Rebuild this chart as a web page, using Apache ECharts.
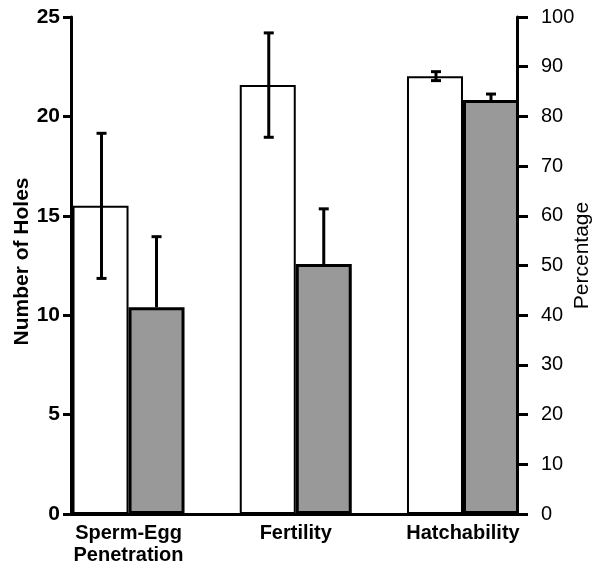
<!DOCTYPE html>
<html><head><meta charset="utf-8">
<script src="https://cdn.jsdelivr.net/npm/echarts@6/dist/echarts.min.js"></script>
<style>html,body{margin:0;padding:0;background:#fff}#c{width:596px;height:571px}</style>
</head><body><div id="c"></div>
<script>
// ---- data ----
const categories = ['Sperm-Egg\nPenetration', 'Fertility', 'Hatchability'];
const categoryPos = [0, 1, 2];
// Sperm-Egg Penetration (number of holes, left axis)
const holesWhite = [15.5];
const holesWhiteErr = [3.65];
const holesGray = [10.4];
const holesGrayErr = [3.55];
// Fertility, Hatchability (percentage, right axis)
const pctWhite = [86.3, 88.1];
const pctWhiteErr = [10.5, 0.9];
const pctGray = [50.3, 83.3];
const pctGrayErr = [11.1, 1.2];
// axis ticks
const holesTicks = {min: 0, max: 25, interval: 5};
const pctTicks = {min: 0, max: 100, interval: 10};

// ---- styles ----
const BAR_W = 56;
const FONT = "'Liberation Sans', Arial, sans-serif";

const holesPos = categoryPos.slice(0, 1);
const pctPos = categoryPos.slice(1);
const pairs = (pos, vals) => vals.map((v, i) => [pos[i], v]);
const triples = (pos, vals, errs) => vals.map((v, i) => [pos[i], v, errs[i]]);

function errRender(side, twoSided) {
  return function (params, api) {
    const x = api.value(0), v = api.value(1), e = api.value(2);
    const top = api.coord([x, v + e]);
    const bot = api.coord([x, twoSided ? v - e : v]);
    const cx = top[0] + side * BAR_W / 2 + (side < 0 ? 1 : 0);
    const st = {stroke: '#000', lineWidth: 3};
    const ch = [
      {type: 'line', shape: {x1: cx, y1: top[1], x2: cx, y2: bot[1]}, style: st},
      {type: 'line', shape: {x1: cx - 5, y1: top[1], x2: cx + 5, y2: top[1]}, style: st}
    ];
    if (twoSided) ch.push({type: 'line', shape: {x1: cx - 5, y1: bot[1], x2: cx + 5, y2: bot[1]}, style: st});
    return {type: 'group', children: ch};
  };
}

const whiteStyle = {color: '#ffffff', borderColor: '#000', borderWidth: 2};
const grayStyle = {color: '#999999', borderColor: '#000', borderWidth: 3};

const xBase = {
  type: 'value', min: -0.344, max: 2.323, position: 'bottom',
  splitLine: {show: false}
};

const chart = echarts.init(document.getElementById('c'), null, {renderer: 'canvas'});
chart.setOption({
  animation: false,
  backgroundColor: '#fff',
  textStyle: {fontFamily: FONT, color: '#000'},
  grid: {left: 71, right: 79, top: 17, bottom: 57, containLabel: false, outerBoundsMode: 'none'},
  xAxis: [
    Object.assign({}, xBase, {
      axisLine: {show: true, onZero: false, lineStyle: {color: '#000', width: 3}},
      axisTick: {show: false},
      axisLabel: {
        show: true, customValues: categoryPos, margin: 8,
        formatter: v => categories[Math.round(v)],
        fontFamily: FONT, fontSize: 20, fontWeight: 'bold', color: '#000', lineHeight: 22
      }
    }),
    Object.assign({}, xBase, {show: false})
  ],
  yAxis: [
    {
      type: 'value', position: 'left', min: holesTicks.min, max: holesTicks.max, interval: holesTicks.interval,
      splitLine: {show: false},
      axisLine: {show: true, onZero: false, lineStyle: {color: '#000', width: 3}},
      axisTick: {show: true, length: 8, lineStyle: {color: '#000', width: 3}},
      axisLabel: {margin: 11, fontFamily: FONT, fontSize: 21, fontWeight: 'bold', color: '#000'},
      name: 'Number of Holes', nameLocation: 'middle', nameRotate: 90, nameGap: 38, nameMoveOverlap: false,
      nameTextStyle: {fontFamily: FONT, fontSize: 21, fontWeight: 'bold', color: '#000', padding: [0, 0, 0, 8]}
    },
    {
      type: 'value', position: 'right', min: pctTicks.min, max: pctTicks.max, interval: pctTicks.interval,
      splitLine: {show: false},
      axisLine: {show: true, onZero: false, lineStyle: {color: '#000', width: 3}},
      axisTick: {show: true, length: 11, lineStyle: {color: '#000', width: 3}},
      axisLabel: {margin: 24, fontFamily: FONT, fontSize: 20, color: '#000'},
      name: 'Percentage', nameLocation: 'middle', nameRotate: 90, nameGap: 55, nameMoveOverlap: false,
      nameTextStyle: {fontFamily: FONT, fontSize: 21, color: '#000', padding: [0, 0, 0, 20]}
    }
  ],
  series: [
    {type: 'bar', name: 'holesWhite', xAxisIndex: 0, yAxisIndex: 0, barWidth: BAR_W, barGap: '0%',
     data: pairs(holesPos, holesWhite), itemStyle: whiteStyle},
    {type: 'bar', name: 'holesGray', xAxisIndex: 0, yAxisIndex: 0, barWidth: BAR_W, barGap: '0%',
     data: pairs(holesPos, holesGray), itemStyle: grayStyle},
    {type: 'bar', name: 'pctWhite', xAxisIndex: 1, yAxisIndex: 1, barWidth: BAR_W, barGap: '0%',
     data: pairs(pctPos, pctWhite), itemStyle: whiteStyle},
    {type: 'bar', name: 'pctGray', xAxisIndex: 1, yAxisIndex: 1, barWidth: BAR_W, barGap: '0%',
     data: pairs(pctPos, pctGray), itemStyle: grayStyle},
    {type: 'custom', xAxisIndex: 0, yAxisIndex: 0, z: 5, encode: {x: 0, y: 1},
     renderItem: errRender(-1, true), data: triples(holesPos, holesWhite, holesWhiteErr)},
    {type: 'custom', xAxisIndex: 0, yAxisIndex: 0, z: 5, encode: {x: 0, y: 1},
     renderItem: errRender(1, false), data: triples(holesPos, holesGray, holesGrayErr)},
    {type: 'custom', xAxisIndex: 1, yAxisIndex: 1, z: 5, encode: {x: 0, y: 1},
     renderItem: errRender(-1, true), data: triples(pctPos, pctWhite, pctWhiteErr)},
    {type: 'custom', xAxisIndex: 1, yAxisIndex: 1, z: 5, encode: {x: 0, y: 1},
     renderItem: errRender(1, false), data: triples(pctPos, pctGray, pctGrayErr)}
  ]
});
</script>
</body></html>
